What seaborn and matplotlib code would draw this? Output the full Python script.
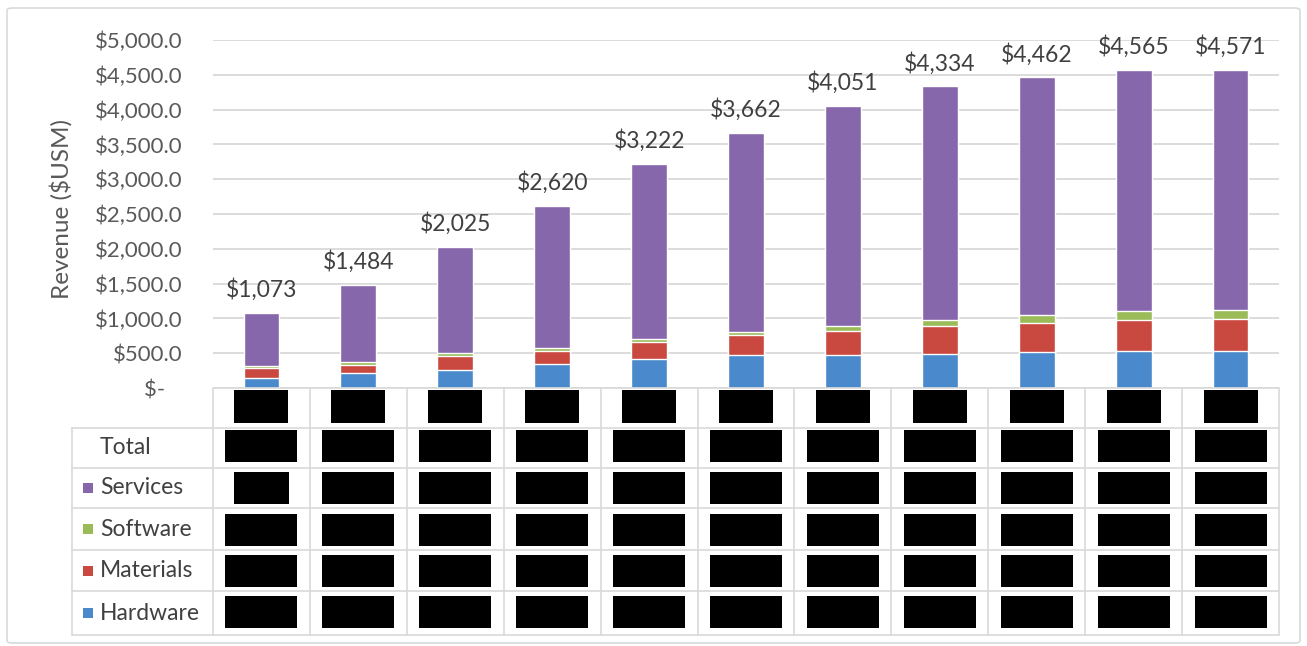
import numpy as np
import pandas as pd
import matplotlib
matplotlib.use("Agg")
import matplotlib.pyplot as plt
from matplotlib.patches import Rectangle, FancyBboxPatch
from matplotlib.lines import Line2D
import seaborn as sns

# Revenue by segment ($USM), one value per year
years = ["2015", "2016", "2017", "2018", "2019", "2020",
         "2021", "2022", "2023", "2024", "2025"]
hardware = [150, 210, 265, 340, 420, 470, 475, 495, 515, 535, 535]
materials = [140, 115, 190, 195, 245, 290, 340, 395, 420, 440, 460]
software = [25, 45, 55, 35, 40, 50, 75, 85, 110, 130, 120]
services = [758, 1114, 1515, 2050, 2517, 2852, 3161, 3359, 3417, 3460, 3456]

segment_names = ["Services", "Software", "Materials", "Hardware"]
segment_colors = {"Hardware": "#4A89CC", "Materials": "#C9483F",
                  "Software": "#9BBB59", "Services": "#8767AB"}

df = pd.DataFrame({"year": years, "Hardware": hardware, "Materials": materials,
                   "Software": software, "Services": services})
df["cum_hw"] = df["Hardware"]
df["cum_mat"] = df["cum_hw"] + df["Materials"]
df["cum_sw"] = df["cum_mat"] + df["Software"]
df["total"] = df["cum_sw"] + df["Services"]

sns.set_style("white")
plt.rcParams["font.family"] = ["Lato", "DejaVu Sans"]

W, H = 1307, 646
fig = plt.figure(figsize=(W / 100, H / 100), dpi=100)


def fx(x):
    return x / W


def fy(y):
    return 1 - y / H


# plot region in pixel units
left, right, top, base = 213, 1279, 40, 388
ax = fig.add_axes([fx(left), fy(base), (right - left) / W, (base - top) / H])

bar_w = 0.37
layers = [("total", "Services"), ("cum_sw", "Software"),
          ("cum_mat", "Materials"), ("cum_hw", "Hardware")]
for col, name in layers:
    sns.barplot(data=df, x="year", y=col, color=segment_colors[name],
                saturation=1, width=bar_w, errorbar=None, ax=ax, zorder=3)

ax.set_xlim(-0.5, len(years) - 0.5)
ax.set_ylim(0, 5000)
ax.set_yticks(np.arange(0, 5001, 500))
ax.set_yticklabels(["$-   "] + [f"${v:,.1f}" for v in np.arange(500, 5001, 500)])
ax.tick_params(axis="y", length=0, pad=22, labelsize=16, labelcolor="#595959")
ax.set_xticks([])
ax.set_xlabel("")
ax.set_ylabel("")
ax.yaxis.grid(True, color="#D9D9D9", lw=1.3, zorder=0)
ax.set_axisbelow(True)
for s in ax.spines.values():
    s.set_visible(False)

for i, t in enumerate(df["total"]):
    ax.annotate(f"${t:,.0f}", (i, t), xytext=(0, 12), textcoords="offset pixels",
                ha="center", va="bottom", fontsize=16.5, color="#404040")

fig.text(fx(61), fy(209), "Revenue ($USM)", rotation=90, ha="center",
         va="center", fontsize=17.5, color="#595959")

# outer chart frame
fig.patches.append(FancyBboxPatch((fx(7), fy(643)), fx(1300) - fx(7),
                                  fy(8) - fy(643),
                                  boxstyle="round,pad=0,rounding_size=0.004",
                                  transform=fig.transFigure, fill=False,
                                  ec="#D9D9D9", lw=1.2))

# data table under the bars
line_c = "#D9D9D9"
col_w = (right - left) / len(years)
row_edges = [428, 468, 508, 550, 591, 635]
label_left = 72


def hline(x0, x1, y):
    fig.add_artist(Line2D([fx(x0), fx(x1)], [fy(y), fy(y)], color=line_c, lw=1.2))


def vline(x, y0, y1):
    fig.add_artist(Line2D([fx(x), fx(x)], [fy(y0), fy(y1)], color=line_c, lw=1.2))


hline(left, right, base)
for y in row_edges:
    hline(label_left, right, y)
vline(label_left, row_edges[0], row_edges[-1])
for k in range(len(years) + 1):
    vline(left + k * col_w, base, row_edges[-1])


def black_box(cx, cy, w, h):
    fig.add_artist(Rectangle((fx(cx - w / 2), fy(cy + h / 2)), w / W, h / H,
                             transform=fig.transFigure, color="black", lw=0))


centers = [left + (k + 0.5) * col_w for k in range(len(years))]
for k, cx in enumerate(centers):
    black_box(cx, 406.5, 54, 33)

row_labels = ["Total"] + segment_names
row_box_y = [446, 487.5, 529.5, 571, 611.5]
for r, (lab, cy) in enumerate(zip(row_labels, row_box_y)):
    text_y = (row_edges[r] + row_edges[r + 1]) / 2
    fig.text(fx(100), fy(text_y), lab, ha="left", va="center",
             fontsize=16.5, color="#404040")
    if lab in segment_colors:
        fig.add_artist(Rectangle((fx(83), fy(text_y + 5)), 10 / W, 10 / H,
                                 transform=fig.transFigure,
                                 color=segment_colors[lab], lw=0))
    for k, cx in enumerate(centers):
        w = 55 if (lab == "Services" and k == 0) else 72
        black_box(cx, cy, w, 32)

fig.savefig("out.png", dpi=100, facecolor="white")
